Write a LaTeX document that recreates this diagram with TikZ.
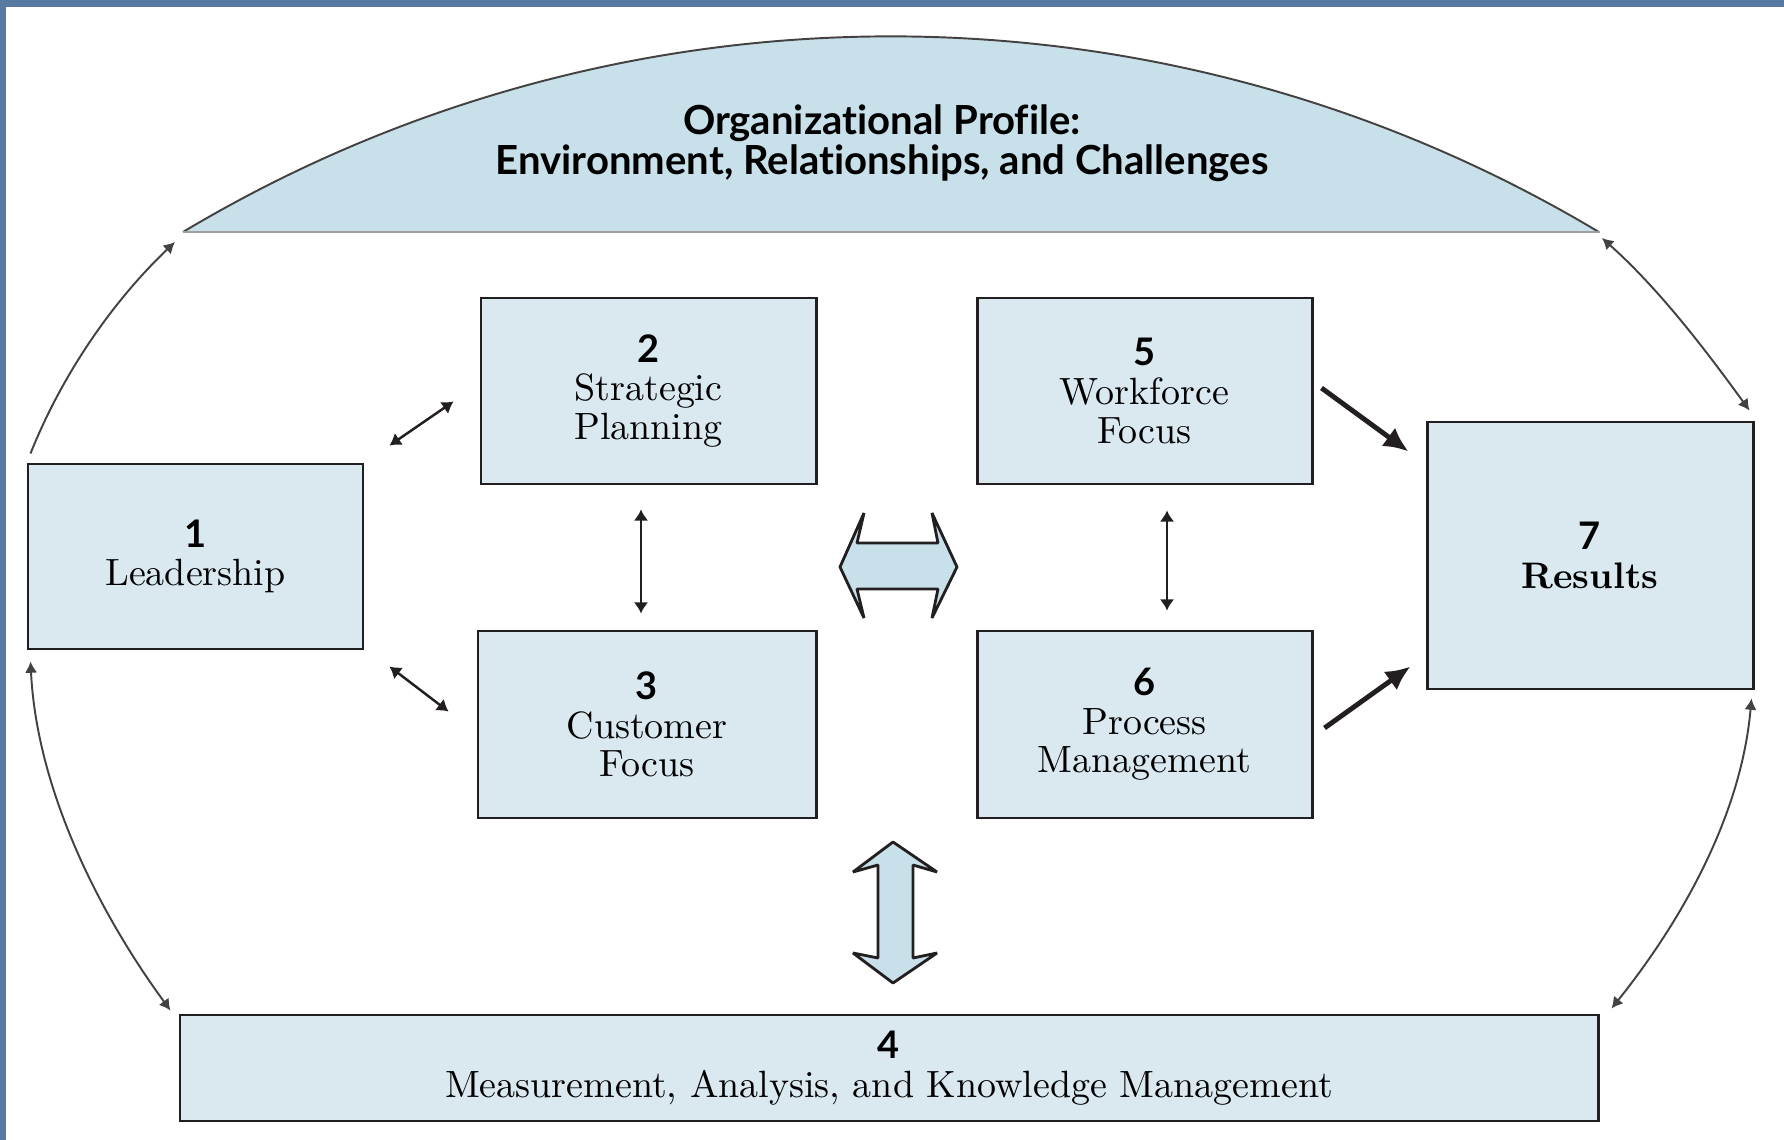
\documentclass[tikz,border=0pt]{standalone}
\usepackage{fontspec}
\newfontfamily\gillsans{Lato}[Ligatures=NoCommon]
\usetikzlibrary{arrows.meta}
\usetikzlibrary{calc}
\definecolor{boxblue}{RGB}{218,233,240}
\definecolor{domeblue}{RGB}{200,224,234}
\definecolor{frameblue}{RGB}{88,122,162}
\definecolor{ink}{RGB}{35,31,32}
\tikzstyle{category}=[rectangle,draw=ink,fill=boxblue,line width=0.85pt,align=center,inner sep=0pt,font=\fontsize{10.8}{11}\selectfont]
\tikzstyle{link}=[draw=ink,line width=0.7pt,{Latex[length=3.2pt,width=4.2pt]}-{Latex[length=3.2pt,width=4.2pt]}]
\tikzstyle{feed}=[draw=ink,line width=1.4pt,-{Latex[length=7pt,width=6.5pt]}]
\tikzstyle{outer}=[draw=ink!85,line width=0.55pt]
\tikzset{outertip/.tip={Latex[length=3.2pt,width=3.5pt]}}
\tikzstyle{hollow}=[draw=ink,fill=domeblue,line width=0.8pt,line join=bevel]
\newcommand{\catnum}[1]{{\gillsans\bfseries #1}}

\begin{document}
\begin{tikzpicture}[x=0.01cm,y=-0.01cm]

  \useasboundingbox (0,0) rectangle (1784,1140);
  \fill[frameblue] (0,0) rectangle (1784,7);
  \fill[frameblue] (0,0) rectangle (6,1140);

  % organizational profile dome
  \coordinate (domeL) at (183,232);
  \coordinate (domeR) at (1600,232);
  \fill[domeblue] (domeL) arc[start angle=-120.9, end angle=-59.1, radius=1378.5] -- cycle;
  \draw[outer] (domeL) arc[start angle=-120.9, end angle=-59.1, radius=1378.5];
  \draw[gray!75,line width=0.6pt] (domeL) -- (domeR);
  \node[font=\gillsans\bfseries\fontsize{11.4}{11.4}\selectfont, align=center] (profile) at (882,143)
     {Organizational Profile:\\Environment, Relationships, and Challenges};

  \foreach \x/\y/\w/\h/\name/\label in {
        195.5/556.5/335/185/lead/{\catnum{1}\\Leadership},
        648.5/391/335/186/strat/{\catnum{2}\\Strategic\\Planning},
        647/724.5/338/187/cust/{\catnum{3}\\Customer\\Focus},
        1144.5/391/335/186/work/{\catnum{5}\\Workforce\\Focus},
        1144.5/724.5/335/187/proc/{\catnum{6}\\Process\\Management},
        1590/555.5/326/267/res/{\catnum{7}\\\textbf{\fontsize{10.5}{11}\selectfont Results}},
        889/1068/1418/106/meas/{\catnum{4}\\Measurement, Analysis, and Knowledge Management}}
          \node[category, minimum width=\w*0.01cm, minimum height=\h*0.01cm] (\name) at (\x,\y) {\label};

  % small two-way links
  \path[link] ([shift={(25,-17)}]lead.north east) -- ([shift={(-26,-84)}]strat.south west);
  \path[link] ([shift={(25,16)}]lead.south east) -- ([shift={(-28,82)}]cust.north west);
  \path[link] ([shift={(-7.5,24)}]strat.south) -- ([shift={(-6,-16)}]cust.north);
  \path[link] ([shift={(22.5,25)}]work.south) -- ([shift={(22.5,-19)}]proc.north);

  % into results
  \path[feed] ([shift={(8,-3)}]work.east) -- ([shift={(-17,31)}]res.north west);
  \path[feed] ([shift={(11,3.5)}]proc.east) -- ([shift={(-15,-24)}]res.south west);

  % outer loop
  \path[outer,-{outertip}] ([shift={(4,-9)}]lead.north west) .. controls +(32,-80) and +(-62,59) .. ([shift={(-8,10)}]domeL);
  \path[outer,{outertip}-{outertip}] ([shift={(4,11)}]lead.south west) .. controls +(6,125) and +(-74,-101) .. ([shift={(-8,-3)}]meas.north west);
  \path[outer,{outertip}-{outertip}] ([shift={(2,6)}]domeR) .. controls +(57,51) and +(-45,-62) .. ([shift={(-5,-10)}]res.north east);
  \path[outer,{outertip}-{outertip}] ([shift={(-3,8)}]res.south east) .. controls +(-10,115) and +(72,-90) .. ([shift={(12,-5)}]meas.north east);

  % broad arrows
  \draw[hollow] (840,567) -- (864,513) -- (857,543) -- (938,543) -- (932,513) -- (957,567)
     -- (932,618) -- (938,589) -- (857,589) -- (864,618) -- cycle;
  \draw[hollow] (893,842) -- (853,872) -- (878,865) -- (878,958) -- (853,953) -- (893,983)
     -- (937,953) -- (913,958) -- (913,865) -- (937,872) -- cycle;

\end{tikzpicture}
\end{document}
